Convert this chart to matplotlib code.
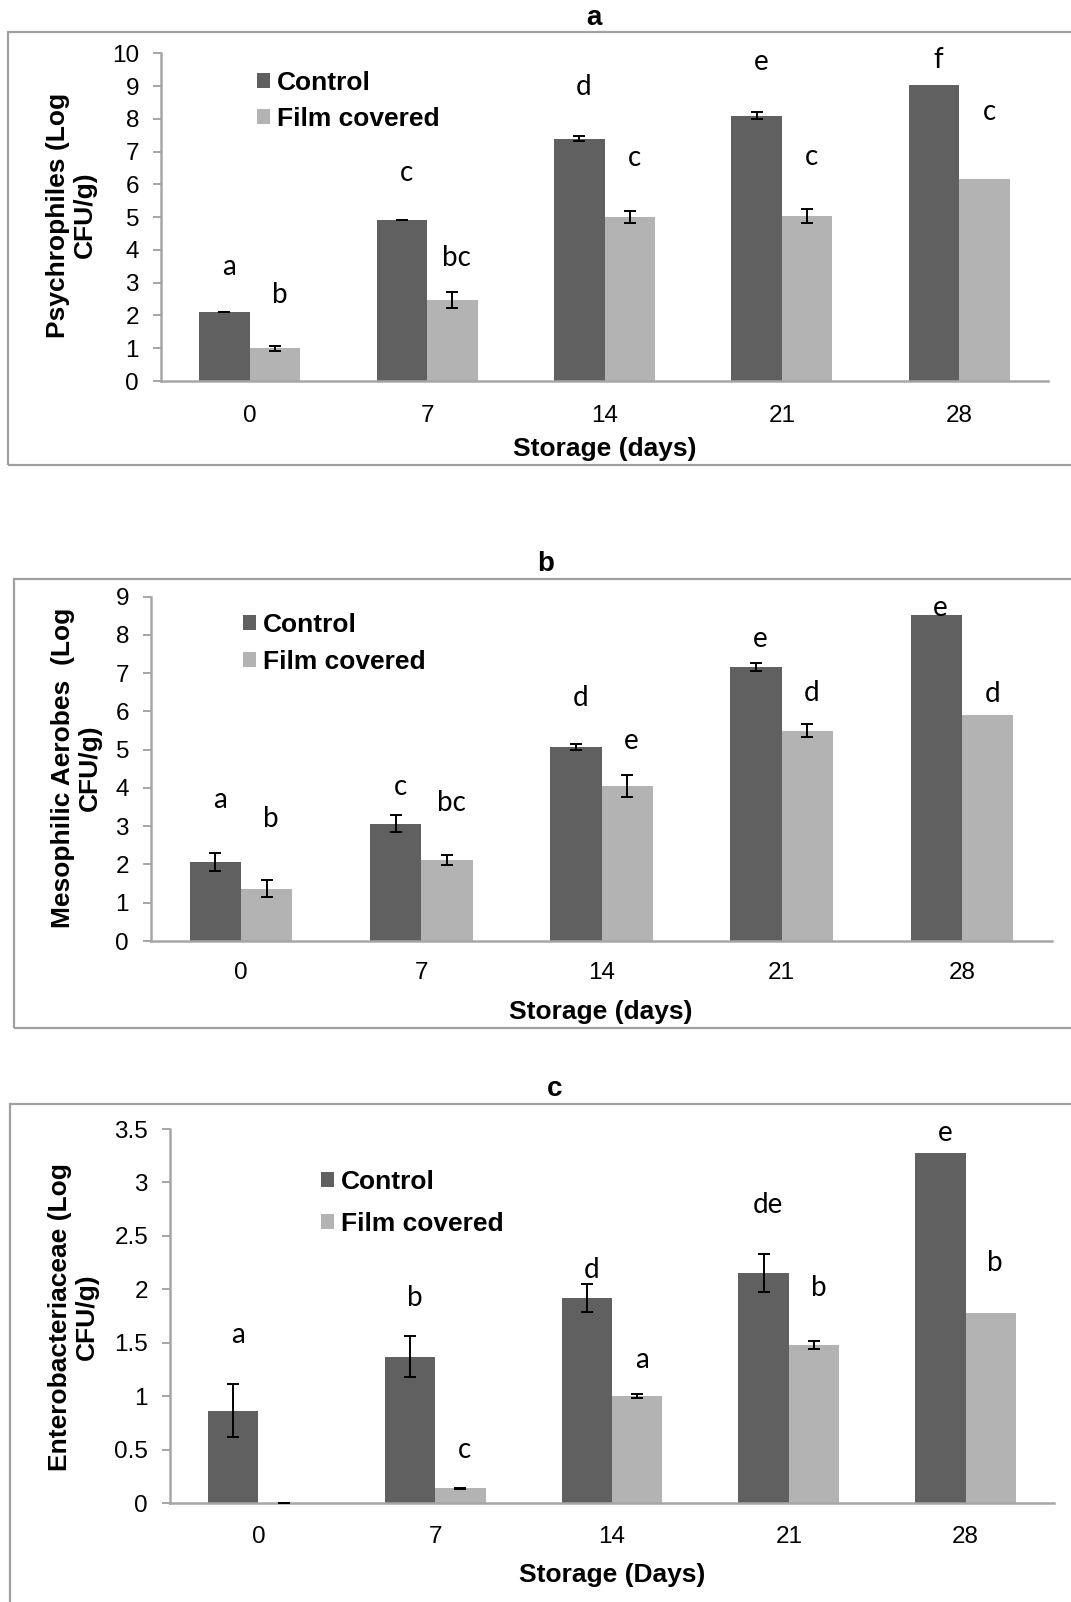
import matplotlib
matplotlib.use("Agg")
import matplotlib.pyplot as plt
from matplotlib.patches import Rectangle
import numpy as np

W, H = 1071, 1602

# ---------------- data ----------------
days = ["0", "7", "14", "21", "28"]
series_names = ["Control", "Film covered"]

# Panel a: Psychrophiles
psy_control = [2.11, 4.91, 7.40, 8.10, 9.03]
psy_control_err = [0.01, 0.01, 0.09, 0.10, 0.0]
psy_film = [1.00, 2.47, 5.01, 5.03, 6.16]
psy_film_err = [0.08, 0.25, 0.19, 0.21, 0.0]
psy_control_letters = ["a", "c", "d", "e", "f"]
psy_film_letters = ["b", "bc", "c", "c", "c"]
psy_control_letter_y = [3.49, 6.34, 8.96, 9.74, 9.79]
psy_film_letter_y = [2.62, 3.74, 6.80, 6.85, 8.22]
psy_yticks = [0, 1, 2, 3, 4, 5, 6, 7, 8, 9, 10]
psy_yticklabels = ["0", "1", "2", "3", "4", "5", "6", "7", "8", "9", "10"]

# Panel b: Mesophilic aerobes
mes_control = [2.06, 3.07, 5.08, 7.16, 8.51]
mes_control_err = [0.24, 0.22, 0.08, 0.10, 0.0]
mes_film = [1.37, 2.12, 4.05, 5.49, 5.91]
mes_film_err = [0.22, 0.13, 0.28, 0.17, 0.0]
mes_control_letters = ["a", "c", "d", "e", "e"]
mes_film_letters = ["b", "bc", "e", "d", "d"]
mes_control_letter_y = [3.69, 4.02, 6.34, 7.89, 8.70]
mes_film_letter_y = [3.18, 3.60, 5.23, 6.47, 6.46]
mes_yticks = [0, 1, 2, 3, 4, 5, 6, 7, 8, 9]
mes_yticklabels = ["0", "1", "2", "3", "4", "5", "6", "7", "8", "9"]

# Panel c: Enterobacteriaceae
ent_control = [0.865, 1.37, 1.92, 2.15, 3.28]
ent_control_err = [0.25, 0.19, 0.13, 0.18, 0.0]
ent_film = [0.0, 0.137, 1.00, 1.48, 1.78]
ent_film_err = [0.003, 0.003, 0.02, 0.04, 0.0]
ent_control_letters = ["a", "b", "d", "de", "e"]
ent_film_letters = ["", "c", "a", "b", "b"]
ent_control_letter_y = [1.57, 1.92, 2.18, 2.79, 3.46]
ent_film_letter_y = [0.0, 0.50, 1.34, 2.01, 2.25]
ent_yticks = [0, 0.5, 1, 1.5, 2, 2.5, 3, 3.5]
ent_yticklabels = ["0", "0.5", "1", "1.5", "2", "2.5", "3", "3.5"]

# ---------------- style ----------------
DARK = "#606060"
LIGHT = "#b3b3b3"
AXC = "#a6a6a6"
SANS = ["Liberation Sans", "DejaVu Sans"]
LETTER_FONT = ["Lato", "DejaVu Sans"]

fig = plt.figure(figsize=(W / 100, H / 100), dpi=100)


def fx(px):
    return px / W


def fy(py):
    return 1 - py / H


def draw_panel(spec, control, control_err, film, film_err,
               c_letters, f_letters, c_ly, f_ly, yticks, yticklabels, ylim,
               ylabel, xlabel, title):
    # border box
    bx0, by0, bx1, by1 = spec["box"]
    fig.add_artist(Rectangle((fx(bx0), fy(by1)), fx(bx1 - bx0), (by1 - by0) / H,
                             transform=fig.transFigure, fill=False,
                             edgecolor="#a0a0a0", linewidth=1.6))
    l, t, r, b = spec["axes"]
    ax = fig.add_axes([fx(l), fy(b), fx(r - l), (b - t) / H])
    x = np.arange(len(days))
    w = 0.285
    b1 = ax.bar(x - w / 2, control, w, color=DARK, label=series_names[0], zorder=2)
    b2 = ax.bar(x + w / 2, film, w, color=LIGHT, label=series_names[1], zorder=2)
    ce = np.array(control_err)
    fe = np.array(film_err)
    m = ce > 0
    ax.errorbar((x - w / 2)[m], np.array(control)[m], yerr=ce[m], fmt="none",
                ecolor="black", elinewidth=1.4, capsize=4.5, capthick=1.4, zorder=3)
    m = fe > 0
    ax.errorbar((x + w / 2)[m], np.array(film)[m], yerr=fe[m], fmt="none",
                ecolor="black", elinewidth=1.4, capsize=4.5, capthick=1.4, zorder=3)
    dx = 0.025
    for i in range(len(days)):
        if c_letters[i]:
            ax.text(x[i] - w / 2 + dx, c_ly[i], c_letters[i], ha="center", va="center",
                    family=LETTER_FONT, fontsize=20, zorder=4)
        if f_letters[i]:
            ax.text(x[i] + w / 2 + dx, f_ly[i], f_letters[i], ha="center", va="center",
                    family=LETTER_FONT, fontsize=20, zorder=4)
    ax.set_xlim(-0.5, len(days) - 0.5)
    ax.set_ylim(*ylim)
    ax.set_xticks(x)
    ax.set_xticklabels(days, family=SANS, fontsize=17.5)
    ax.set_yticks(yticks)
    ax.set_yticklabels(yticklabels, family=SANS, fontsize=17.5)
    ax.tick_params(axis="x", length=0, pad=spec["xpad"])
    ax.tick_params(axis="y", direction="out", length=5.8, width=1.4, color=AXC, pad=10)
    for s in ["top", "right"]:
        ax.spines[s].set_visible(False)
    for s in ["left", "bottom"]:
        ax.spines[s].set_color(AXC)
        ax.spines[s].set_linewidth(1.8)
    ax.patch.set_alpha(0)
    lx, ly, ls = spec["legend"]
    ax.legend(handles=[b1, b2], labels=series_names, loc="upper left",
              bbox_to_anchor=(fx(lx), fy(ly)), bbox_transform=fig.transFigure,
              frameon=False, borderpad=0, borderaxespad=0, handlelength=0.5,
              handleheight=0.5, handletextpad=0.25, labelspacing=ls,
              prop={"family": SANS, "weight": "bold", "size": 19})
    # titles and labels
    tx, ty = spec["title"]
    fig.text(fx(tx), fy(ty), title, ha="center", va="baseline", family=SANS,
             fontweight="bold", fontsize=20)
    yx, yy = spec["ylabel"]
    fig.text(fx(yx), fy(yy), ylabel, ha="center", va="center", rotation=90,
             multialignment="center", family=SANS, fontweight="bold", fontsize=19,
             linespacing=1.15)
    xx, xy = spec["xlabel"]
    fig.text(fx(xx), fy(xy), xlabel, ha="center", va="baseline", family=SANS,
             fontweight="bold", fontsize=19)
    return ax


spec_a = dict(box=(8, 31.5, 1090, 464.5), axes=(161, 53.3, 1048, 381), xpad=17,
              legend=(257, 71, 0.46), title=(594, 25), ylabel=(71.5, 215),
              xlabel=(605, 456))
spec_b = dict(box=(13.5, 579, 1090, 1028), axes=(151, 596.7, 1052, 941), xpad=15,
              legend=(243, 613, 0.5), title=(546, 571.5), ylabel=(76.5, 768),
              xlabel=(601, 1019))
spec_c = dict(box=(9.5, 1103.5, 1090, 1700), axes=(170, 1129, 1054, 1503), xpad=16.5,
              legend=(321, 1170, 0.68), title=(555, 1096), ylabel=(73.5, 1317),
              xlabel=(612, 1582))

draw_panel(spec_a, psy_control, psy_control_err, psy_film, psy_film_err,
           psy_control_letters, psy_film_letters, psy_control_letter_y, psy_film_letter_y,
           psy_yticks, psy_yticklabels, (0, 10),
           "Psychrophiles (Log\nCFU/g)", "Storage (days)", "a")
draw_panel(spec_b, mes_control, mes_control_err, mes_film, mes_film_err,
           mes_control_letters, mes_film_letters, mes_control_letter_y, mes_film_letter_y,
           mes_yticks, mes_yticklabels, (0, 9),
           "Mesophilic Aerobes  (Log\nCFU/g)", "Storage (days)", "b")
draw_panel(spec_c, ent_control, ent_control_err, ent_film, ent_film_err,
           ent_control_letters, ent_film_letters, ent_control_letter_y, ent_film_letter_y,
           ent_yticks, ent_yticklabels, (0, 3.5),
           "Enterobacteriaceae (Log\nCFU/g)", "Storage (Days)", "c")

fig.savefig("out.png", dpi=100)
